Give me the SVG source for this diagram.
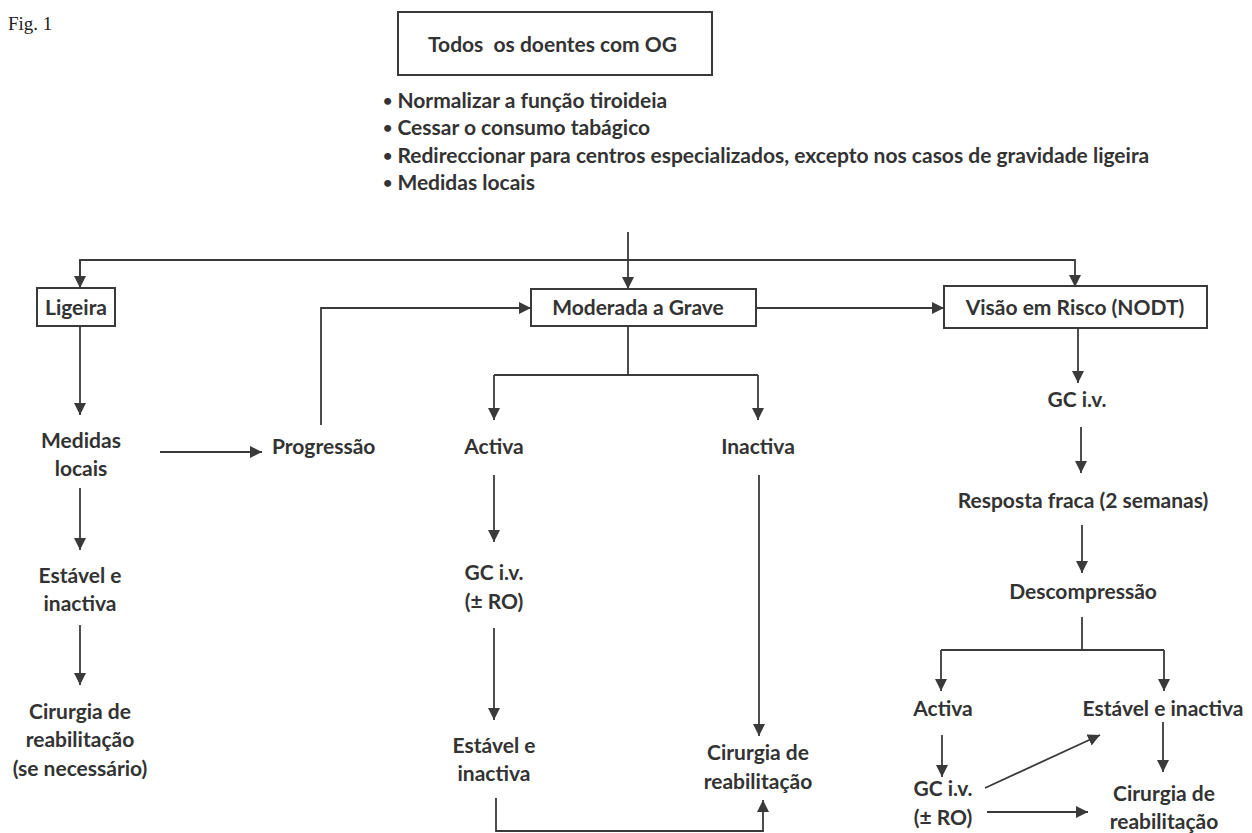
<svg xmlns="http://www.w3.org/2000/svg" width="1252" height="833" viewBox="0 0 1252 833">
<style>
.t{font-family:Lato,"Open Sans",sans-serif;font-weight:bold;font-size:21px;fill:#333;text-anchor:middle}
.l{text-anchor:start}
.d{font-size:16px}
.b{fill:#fff;stroke:#3a3a3a;stroke-width:2}
.c{fill:none;stroke:#3a3a3a;stroke-width:1.8}
.fig{font-family:"Liberation Serif",serif;font-size:19px;fill:#222}
</style>
<defs>
<marker id="a" markerUnits="userSpaceOnUse" markerWidth="14" markerHeight="14" refX="12" refY="6" orient="auto">
<path d="M0,0 L12,6 L0,12 Z" fill="#3a3a3a"/>
</marker>
</defs>
<rect width="1252" height="833" fill="#fff"/>
<text class="fig" x="8" y="30">Fig. 1</text>
<g id="top"><rect class="b" x="398" y="12" width="314" height="63"/><text class="t l" x="428" y="52" xml:space="preserve">Todos  os doentes com OG</text></g>
<g id="bullets">
<text class="t l" x="383" y="108"><tspan class="d" dy="-2">•</tspan><tspan dy="2"> Normalizar a função tiroideia</tspan></text>
<text class="t l" x="383" y="135"><tspan class="d" dy="-2">•</tspan><tspan dy="2"> Cessar o consumo tabágico</tspan></text>
<text class="t l" x="383" y="163"><tspan class="d" dy="-2">•</tspan><tspan dy="2"> Redireccionar para centros especializados, excepto nos casos de gravidade ligeira</tspan></text>
<text class="t l" x="383" y="190"><tspan class="d" dy="-2">•</tspan><tspan dy="2"> Medidas locais</tspan></text>
</g>
<g id="ligeira"><rect class="b" x="37" y="288" width="78" height="38"/><text class="t" x="76" y="315">Ligeira</text></g>
<g id="moderada"><rect class="b" x="531" y="289" width="225" height="37"/><text class="t" x="638" y="315">Moderada a Grave</text></g>
<g id="visao"><rect class="b" x="944" y="286" width="263" height="42"/><text class="t" x="1075" y="315">Visão em Risco (NODT)</text></g>
<g id="medidas"><text class="t" x="81" y="448">Medidas</text><text class="t" x="81" y="476">locais</text></g>
<g id="progressao"><text class="t l" x="272" y="454">Progressão</text></g>
<g id="estavel1"><text class="t" x="80" y="583">Estável e</text><text class="t" x="80" y="611">inactiva</text></g>
<g id="cirurgia1"><text class="t" x="80" y="719">Cirurgia de</text><text class="t" x="80" y="747">reabilitação</text><text class="t" x="80" y="776">(se necessário)</text></g>
<g id="activa1"><text class="t" x="494" y="454">Activa</text></g>
<g id="inactiva1"><text class="t" x="758" y="454">Inactiva</text></g>
<g id="gc1"><text class="t" x="494" y="580">GC i.v.</text><text class="t" x="494" y="609">(± RO)</text></g>
<g id="estavel2"><text class="t" x="494" y="753">Estável e</text><text class="t" x="494" y="781">inactiva</text></g>
<g id="cirurgia2"><text class="t" x="758" y="760">Cirurgia de</text><text class="t" x="758" y="789">reabilitação</text></g>
<g id="gc2"><text class="t" x="1077" y="407">GC i.v.</text></g>
<g id="resposta"><text class="t" x="1083" y="508">Resposta fraca (2 semanas)</text></g>
<g id="descomp"><text class="t" x="1083" y="599">Descompressão</text></g>
<g id="activa2"><text class="t" x="943" y="716">Activa</text></g>
<g id="estavel3"><text class="t" x="1163" y="716">Estável e inactiva</text></g>
<g id="gc3"><text class="t" x="943" y="796">GC i.v.</text><text class="t" x="943" y="825">(± RO)</text></g>
<g id="cirurgia3"><text class="t" x="1164" y="801">Cirurgia de</text><text class="t" x="1164" y="829">reabilitação</text></g>
<g id="connectors">
<path class="c" d="M628,232 V260"/>
<path class="c" d="M80,288 V260 H1075 V287" marker-end="url(#a)"/>
<path class="c" d="M80,260 V288" marker-end="url(#a)"/>
<path class="c" d="M628,260 V289" marker-end="url(#a)"/>
<path class="c" d="M756,308 H944" marker-end="url(#a)"/>
<path class="c" d="M321,425 V308 H531" marker-end="url(#a)"/>
<path class="c" d="M80,326 V415" marker-end="url(#a)"/>
<path class="c" d="M160,452 H262" marker-end="url(#a)"/>
<path class="c" d="M80,488 V550" marker-end="url(#a)"/>
<path class="c" d="M80,625 V685" marker-end="url(#a)"/>
<path class="c" d="M628,326 V375"/>
<path class="c" d="M494,375 H758"/>
<path class="c" d="M494,375 V420" marker-end="url(#a)"/>
<path class="c" d="M758,375 V420" marker-end="url(#a)"/>
<path class="c" d="M494,475 V542" marker-end="url(#a)"/>
<path class="c" d="M494,628 V720" marker-end="url(#a)"/>
<path class="c" d="M759,475 V736" marker-end="url(#a)"/>
<path class="c" d="M496,798 V831 H763 V800" marker-end="url(#a)"/>
<path class="c" d="M1078,328 V383" marker-end="url(#a)"/>
<path class="c" d="M1081,427 V473" marker-end="url(#a)"/>
<path class="c" d="M1082,525 V573" marker-end="url(#a)"/>
<path class="c" d="M1082,617 V650"/>
<path class="c" d="M941,650 H1164"/>
<path class="c" d="M941,650 V691" marker-end="url(#a)"/>
<path class="c" d="M1164,650 V691" marker-end="url(#a)"/>
<path class="c" d="M942,735 V777" marker-end="url(#a)"/>
<path class="c" d="M985,788 L1100,735" marker-end="url(#a)"/>
<path class="c" d="M987,812 H1088" marker-end="url(#a)"/>
<path class="c" d="M1163,722 V772" marker-end="url(#a)"/>
</g>
</svg>
